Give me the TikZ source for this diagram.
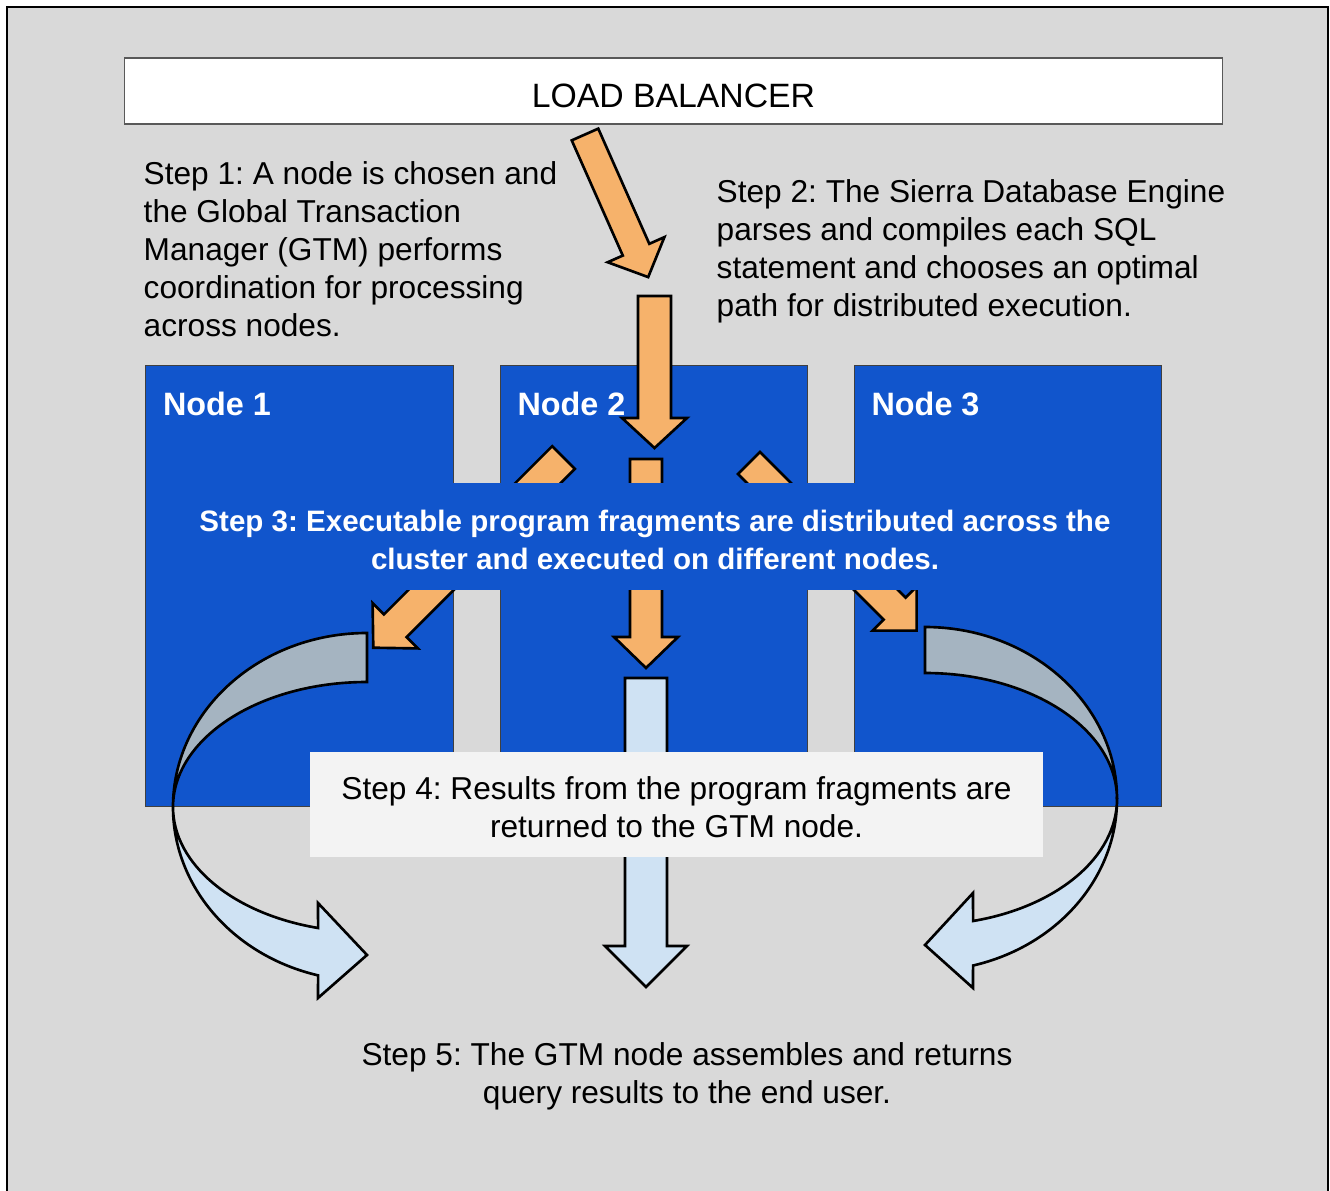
\documentclass[tikz,border=0pt]{standalone}
\usepackage{fontspec}
\setmainfont{Liberation Sans}
\usetikzlibrary{positioning}
\frenchspacing
\definecolor{bggray}{HTML}{D9D9D9}
\definecolor{nodeblue}{HTML}{1155CC}
\definecolor{fragorange}{HTML}{F6B26B}
\definecolor{backgray}{HTML}{A5B4C1}
\definecolor{resultblue}{HTML}{CFE2F3}
\definecolor{notegray}{HTML}{F3F3F3}
\newcommand{\blockarrow}[7]{%
  \begin{scope}[shift={(#1)},rotate=#2]
    \draw[#7] (0,-#4)--({#3-#6},-#4)--({#3-#6},-#5)--(#3,0)--({#3-#6},#5)--({#3-#6},#4)--(0,#4)--cycle;
  \end{scope}}
\begin{document}
\begin{tikzpicture}[x=0.01cm,y=-0.01cm,line join=miter,
  txt/.style={inner sep=0pt,align=left,font=\fontsize{9}{10.8}\selectfont},
  nodebox/.style={draw=black!75,line width=.3pt,fill=nodeblue,minimum width=3.07cm,minimum height=4.4cm,inner sep=0pt},
  nodelabel/.style={anchor=west,inner sep=0pt,text=white,font=\bfseries\fontsize{9.2}{11}\selectfont},
  orangearrow/.style={fill=fragorange,draw=black,line width=.75pt},
  resultarrow/.style={fill=resultblue,draw=black,line width=.75pt},
  backpart/.style={fill=backgray,draw=black,line width=.75pt}]
\useasboundingbox (0,0) rectangle (1330,1191);
\fill[bggray] (7,7) rectangle (1328,1191);
\draw[line width=.6pt] (7,1191)--(7,7)--(1328,7)--(1328,1191);
\node[draw=black!65,fill=white,line width=.35pt,minimum width=10.97cm,minimum height=.66cm,inner sep=0pt,text height=.34cm,font=\fontsize{9.6}{11}\selectfont] (lb) at (673.5,91) {LOAD BALANCER};
\node[txt,anchor=north west] (step1) at (143,161) {Step 1: A node is chosen and\\the Global Transaction\\Manager (GTM) performs\\coordination for processing\\across nodes.};
\node[txt,anchor=north west] (step2) at (716,179) {Step 2: The Sierra Database Engine\\parses and compiles each SQL\\statement and chooses an optimal\\path for distributed execution.};
\blockarrow{585,134.5}{-66.1}{156}{14.5}{31}{30}{orangearrow}
\foreach \n/\x in {1/299.5,2/654,3/1008}{
  \node[nodebox] (n\n) at (\x,586) {};
  \node[nodelabel] (l\n) at ([xshift=.17cm,yshift=-.39cm]n\n.north west) {Node \n};}
\blockarrow{654.5,296}{-90}{152}{16.5}{32.5}{30}{orangearrow}
\blockarrow{563.5,457.5}{-135}{269}{16}{32}{31}{orangearrow}
\blockarrow{646,459}{-90}{209}{16}{32}{31}{orangearrow}
\blockarrow{749,463}{-45}{237}{15.5}{31}{31}{orangearrow}
\node[fill=nodeblue,minimum width=9.3cm,minimum height=1.07cm,inner sep=0pt] (step3) at (655,536.5) {};
\node[inner sep=0pt,align=center,text=white,font=\bfseries\fontsize{8.4}{10.8}\selectfont] (step3text) at ([yshift=-.03cm]step3.center) {Step 3: Executable program fragments are distributed across the\\cluster and executed on different nodes.};
\blockarrow{646,678}{-90}{309}{21}{41}{41}{resultarrow}
\node[fill=notegray,minimum width=7.33cm,minimum height=1.05cm,inner sep=0pt] (step4) at (676.5,804.5) {};
\node[txt,align=center] (step4text) at ([yshift=-.03cm]step4.center) {Step 4: Results from the program fragments are\\returned to the GTM node.};
\draw[backpart] (367,633) arc[start angle=270,end angle=180,x radius=194,y radius=174] arc[start angle=180,end angle=270,x radius=194,y radius=125] -- cycle;
\draw[resultarrow] (173,807) arc[start angle=180,end angle=104.6,x radius=194,y radius=174] -- (318,998) -- (367,955) -- (318,903) -- (318.1,928) arc[start angle=104.6,end angle=180,x radius=194,y radius=125] -- cycle;
\draw[backpart] (925,627) arc[start angle=270,end angle=360,x radius=192,y radius=172] arc[start angle=0,end angle=-90,x radius=192,y radius=126] -- cycle;
\draw[resultarrow] (1117,799) arc[start angle=0,end angle=75.5,x radius=192,y radius=172] -- (973,988) -- (925,945) -- (973,893) -- (973.1,921) arc[start angle=75.5,end angle=0,x radius=192,y radius=126] -- cycle;
\node[txt,align=center] (step5) at (687,1076) {Step 5: The GTM node assembles and returns\\query results to the end user.};
\end{tikzpicture}
\end{document}
